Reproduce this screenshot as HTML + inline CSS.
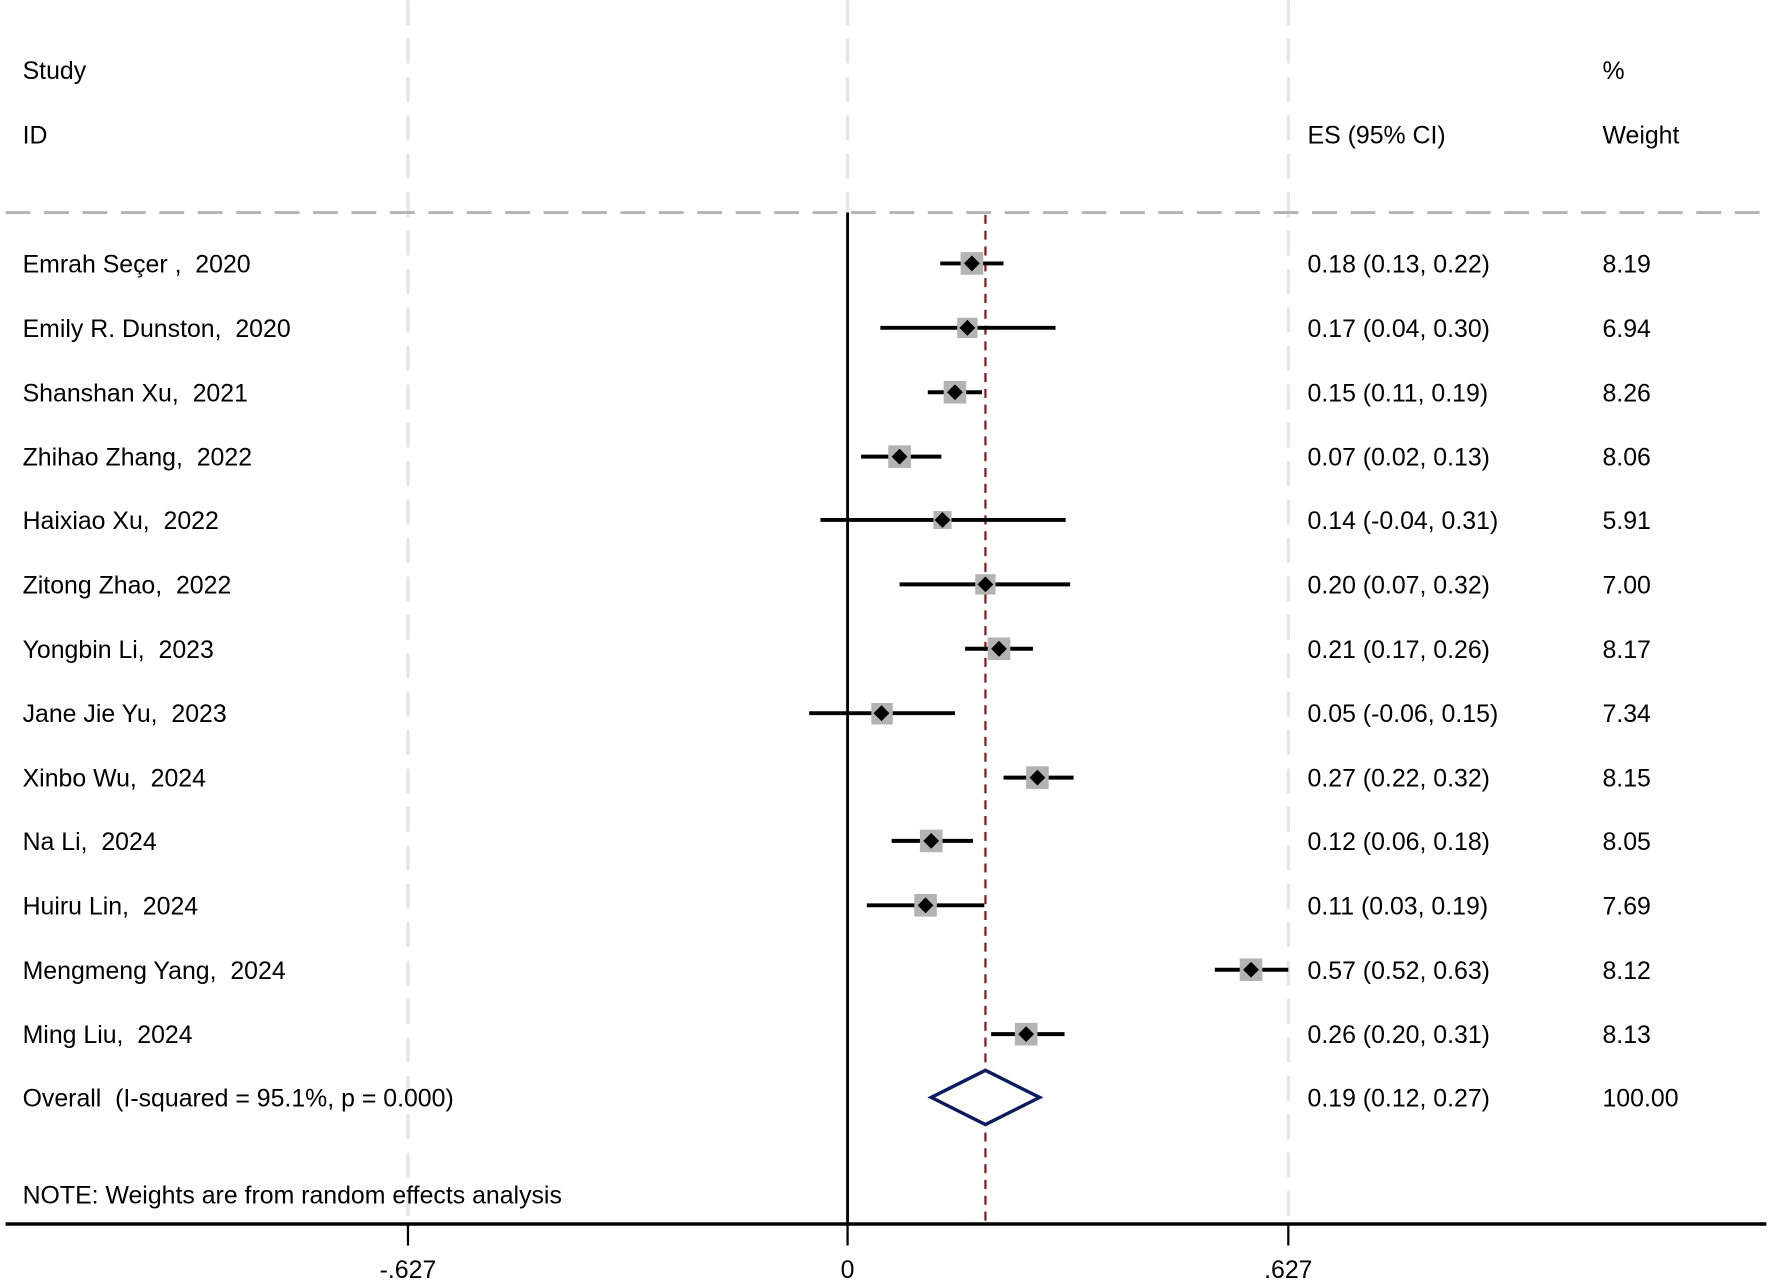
<!DOCTYPE html>
<html><head><meta charset="utf-8"><style>html,body{margin:0;padding:0;background:#fff}svg{display:block}text{font-family:"Liberation Sans",Arial,sans-serif;font-size:22px;fill:#000;white-space:pre}</style></head>
<body>
<svg width="1772" height="1284" viewBox="0 0 1568 1136" xmlns="http://www.w3.org/2000/svg" xml:space="preserve">
<g stroke="#e6e6e6" stroke-width="3" stroke-dasharray="22,12">
<line x1="361" y1="0" x2="361" y2="1083"/>
<line x1="750" y1="0" x2="750" y2="188"/>
<line x1="1140" y1="0" x2="1140" y2="1083"/>
</g>
<line x1="5" y1="188" x2="1565" y2="188" stroke="#b3b3b3" stroke-width="2.5" stroke-dasharray="22,12"/>
<line x1="750" y1="188" x2="750" y2="1083" stroke="#000" stroke-width="2.5"/>
<line x1="872" y1="190" x2="872" y2="1083" stroke="#8b1a1a" stroke-width="2" stroke-dasharray="8,6"/>
<text x="20" y="70">Study</text><text x="20" y="127">ID</text>
<text x="1157" y="127">ES (95% CI)</text>
<text x="1418" y="70">%</text><text x="1418" y="127">Weight</text>
<g>
<g transform="translate(0,233)"><line x1="832" x2="888" y1="0" y2="0" stroke="#000" stroke-width="3.5"/><rect x="850" y="-10" width="20" height="20" fill="#b3b3b3"/><path d="M860 -7L867 0L860 7L853 0Z"/><text x="20" y="8">Emrah Seçer ,  2020</text><text x="1157" y="8">0.18 (0.13, 0.22)</text><text x="1418" y="8">8.19</text></g>
<g transform="translate(0,290)"><line x1="779" x2="934" y1="0" y2="0" stroke="#000" stroke-width="3.5"/><rect x="847" y="-9" width="18" height="18" fill="#b3b3b3"/><path d="M856 -7L863 0L856 7L849 0Z"/><text x="20" y="8">Emily R. Dunston,  2020</text><text x="1157" y="8">0.17 (0.04, 0.30)</text><text x="1418" y="8">6.94</text></g>
<g transform="translate(0,347)"><line x1="821" x2="869" y1="0" y2="0" stroke="#000" stroke-width="3.5"/><rect x="835" y="-10" width="20" height="20" fill="#b3b3b3"/><path d="M845 -7L852 0L845 7L838 0Z"/><text x="20" y="8">Shanshan Xu,  2021</text><text x="1157" y="8">0.15 (0.11, 0.19)</text><text x="1418" y="8">8.26</text></g>
<g transform="translate(0,404)"><line x1="762" x2="833" y1="0" y2="0" stroke="#000" stroke-width="3.5"/><rect x="786" y="-10" width="20" height="20" fill="#b3b3b3"/><path d="M796 -7L803 0L796 7L789 0Z"/><text x="20" y="8">Zhihao Zhang,  2022</text><text x="1157" y="8">0.07 (0.02, 0.13)</text><text x="1418" y="8">8.06</text></g>
<g transform="translate(0,460)"><line x1="726" x2="943" y1="0" y2="0" stroke="#000" stroke-width="3.5"/><rect x="826" y="-8" width="16" height="16" fill="#b3b3b3"/><path d="M834 -7L841 0L834 7L827 0Z"/><text x="20" y="8">Haixiao Xu,  2022</text><text x="1157" y="8">0.14 (-0.04, 0.31)</text><text x="1418" y="8">5.91</text></g>
<g transform="translate(0,517)"><line x1="796" x2="947" y1="0" y2="0" stroke="#000" stroke-width="3.5"/><rect x="863" y="-9" width="18" height="18" fill="#b3b3b3"/><path d="M872 -7L879 0L872 7L865 0Z"/><text x="20" y="8">Zitong Zhao,  2022</text><text x="1157" y="8">0.20 (0.07, 0.32)</text><text x="1418" y="8">7.00</text></g>
<g transform="translate(0,574)"><line x1="854" x2="914" y1="0" y2="0" stroke="#000" stroke-width="3.5"/><rect x="874" y="-10" width="20" height="20" fill="#b3b3b3"/><path d="M884 -7L891 0L884 7L877 0Z"/><text x="20" y="8">Yongbin Li,  2023</text><text x="1157" y="8">0.21 (0.17, 0.26)</text><text x="1418" y="8">8.17</text></g>
<g transform="translate(0,631)"><line x1="716" x2="845" y1="0" y2="0" stroke="#000" stroke-width="3.5"/><rect x="771" y="-9" width="19" height="19" fill="#b3b3b3"/><path d="M780 -7L787 0L780 7L773 0Z"/><text x="20" y="8">Jane Jie Yu,  2023</text><text x="1157" y="8">0.05 (-0.06, 0.15)</text><text x="1418" y="8">7.34</text></g>
<g transform="translate(0,688)"><line x1="888" x2="950" y1="0" y2="0" stroke="#000" stroke-width="3.5"/><rect x="908" y="-10" width="20" height="20" fill="#b3b3b3"/><path d="M918 -7L925 0L918 7L911 0Z"/><text x="20" y="8">Xinbo Wu,  2024</text><text x="1157" y="8">0.27 (0.22, 0.32)</text><text x="1418" y="8">8.15</text></g>
<g transform="translate(0,744)"><line x1="789" x2="861" y1="0" y2="0" stroke="#000" stroke-width="3.5"/><rect x="814" y="-10" width="20" height="20" fill="#b3b3b3"/><path d="M824 -7L831 0L824 7L817 0Z"/><text x="20" y="8">Na Li,  2024</text><text x="1157" y="8">0.12 (0.06, 0.18)</text><text x="1418" y="8">8.05</text></g>
<g transform="translate(0,801)"><line x1="767" x2="871" y1="0" y2="0" stroke="#000" stroke-width="3.5"/><rect x="809" y="-10" width="20" height="20" fill="#b3b3b3"/><path d="M819 -7L826 0L819 7L812 0Z"/><text x="20" y="8">Huiru Lin,  2024</text><text x="1157" y="8">0.11 (0.03, 0.19)</text><text x="1418" y="8">7.69</text></g>
<g transform="translate(0,858)"><line x1="1075" x2="1140" y1="0" y2="0" stroke="#000" stroke-width="3.5"/><rect x="1097" y="-10" width="20" height="20" fill="#b3b3b3"/><path d="M1107 -7L1114 0L1107 7L1100 0Z"/><text x="20" y="8">Mengmeng Yang,  2024</text><text x="1157" y="8">0.57 (0.52, 0.63)</text><text x="1418" y="8">8.12</text></g>
<g transform="translate(0,915)"><line x1="877" x2="942" y1="0" y2="0" stroke="#000" stroke-width="3.5"/><rect x="898" y="-10" width="20" height="20" fill="#b3b3b3"/><path d="M908 -7L915 0L908 7L901 0Z"/><text x="20" y="8">Ming Liu,  2024</text><text x="1157" y="8">0.26 (0.20, 0.31)</text><text x="1418" y="8">8.13</text></g>
</g>
<path d="M824 971L872 947L920 971L872 995Z" fill="#fff" stroke="#0d1a5e" stroke-width="3"/>
<text x="20" y="979">Overall  (I-squared = 95.1%, p = 0.000)</text>
<text x="1157" y="979">0.19 (0.12, 0.27)</text><text x="1418" y="979">100.00</text>
<text x="20" y="1065">NOTE: Weights are from random effects analysis</text>
<line x1="5" y1="1083" x2="1563" y2="1083" stroke="#000" stroke-width="3"/>
<g stroke="#000" stroke-width="2"><line x1="361" y1="1083" x2="361" y2="1102"/><line x1="750" y1="1083" x2="750" y2="1102"/><line x1="1140" y1="1083" x2="1140" y2="1102"/></g>
<text x="361" y="1131" text-anchor="middle">-.627</text>
<text x="750" y="1131" text-anchor="middle">0</text>
<text x="1140" y="1131" text-anchor="middle">.627</text>
</svg>
</body></html>
